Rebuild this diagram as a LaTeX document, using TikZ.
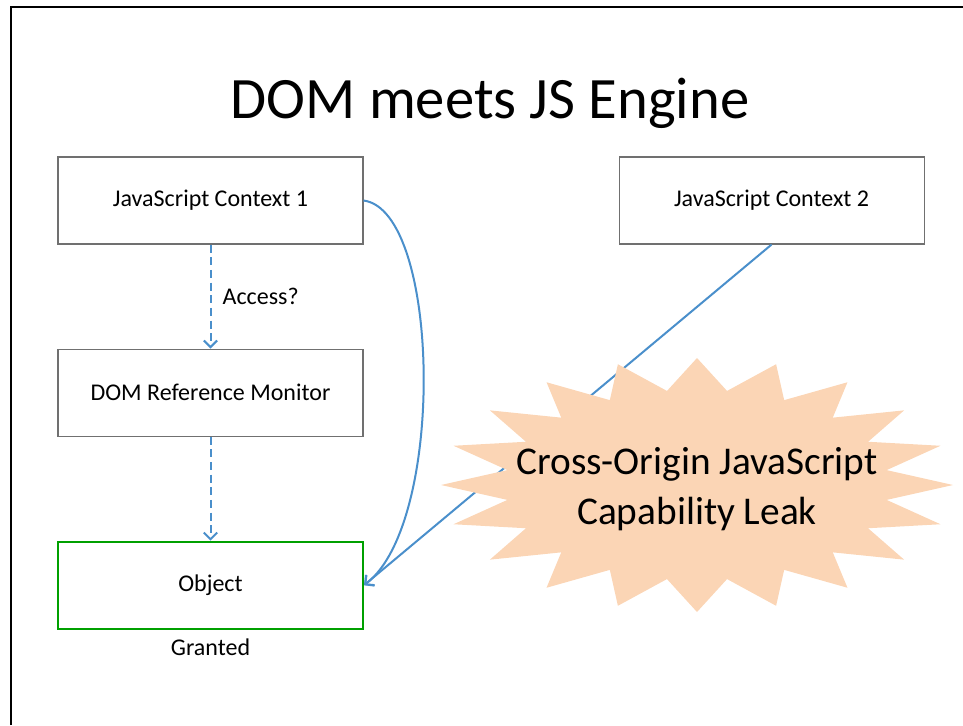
\documentclass[tikz,border=0pt]{standalone}
\usepackage{fontspec}
\setmainfont{Carlito}
\usetikzlibrary{positioning,arrows.meta}

\definecolor{boxgray}{HTML}{707070}
\definecolor{okgreen}{HTML}{00A000}
\definecolor{linkblue}{HTML}{4A8FCB}
\definecolor{peach}{HTML}{FBD5B5}

\tikzset{
  box/.style={draw=boxgray, line width=0.8pt, minimum width=228.75pt, minimum height=65.25pt,
    font=\fontsize{18}{21}\selectfont},
  link/.style={draw=linkblue, line width=1.5pt, -{Straight Barb[length=5pt,width=10pt]}},
  check/.style={link, dash pattern=on 6pt off 3.5pt}
}

\begin{document}
\begin{tikzpicture}[x=0.75pt,y=-0.75pt]
\useasboundingbox (0,0) rectangle (963,725);

% slide frame
\draw[line width=2.2pt] (11,725) -- (11,7) -- (963,7);

\node[font=\fontsize{44}{50}\selectfont] (title) at (490,103) {DOM meets JS Engine};

% boxes
\node[box] (ctx1) at (210.5,200.5) {JavaScript Context 1};
\node[box, right=191.25pt of ctx1] (ctx2) {JavaScript Context 2};
\node[box, below=78pt of ctx1] (mon) {DOM Reference Monitor};
\node[box, below=78pt of mon, draw=okgreen, line width=1.6pt] (obj) {Object};
\node[font=\fontsize{18}{21}\selectfont, below=3pt of obj] (granted) {Granted};

% arrows
\draw[check] (ctx1) -- node[right=5pt, font=\fontsize{18}{21}\selectfont] (access) {Access?} (mon);
\draw[check] (mon) -- (obj);
\draw[link] (ctx1.east) .. controls +(77,10) and +(82,-62) .. (obj.east);
\draw[link] (ctx2.south) -- (obj.east);

% the leak
\coordinate (burst) at (697,485);
\fill[peach, shift={(burst)}] plot[samples at={0,...,39}]
  ({256*(1-0.25*mod(\x,2))*cos(9*\x)}, {127*(1-0.25*mod(\x,2))*sin(9*\x)}) -- cycle;
\node[align=center, font=\fontsize{29.5}{37.5}\selectfont] (leak) at (697,489) {Cross-Origin JavaScript\\Capability Leak};

\end{tikzpicture}
\end{document}
